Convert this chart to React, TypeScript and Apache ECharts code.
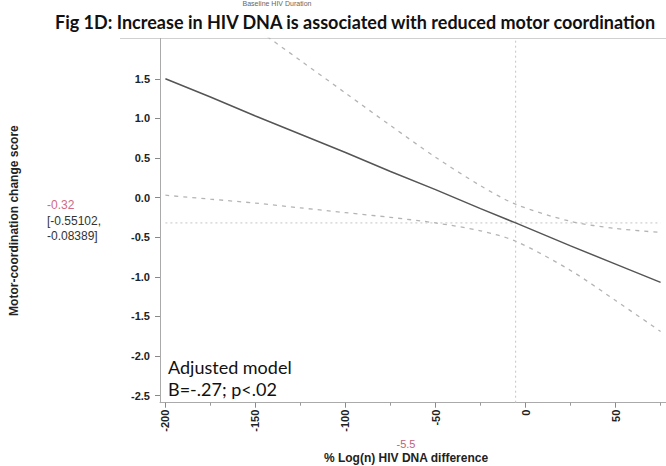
import React, { useEffect, useRef } from "react";
import * as echarts from "echarts";

// ---- data ----
const xValues = [-200, -175, -150, -125, -100, -75, -50, -25, -5.5, 25, 50, 75];
const fitValues = [1.5, 1.27, 1.03, 0.8, 0.57, 0.33, 0.1, -0.14, -0.32, -0.61, -0.84, -1.07];
const upperCI = [2.97, 2.55, 2.14, 1.73, 1.32, 0.91, 0.51, 0.15, -0.08389, -0.3, -0.39, -0.44];
const lowerCI = [0.03, -0.02, -0.07, -0.13, -0.19, -0.25, -0.32, -0.42, -0.55102, -0.92, -1.3, -1.69];

const refX = -5.5;
const refY = -0.32;
const refYLow = "-0.55102";
const refYHigh = "-0.08389";

const xTicks = [-200, -150, -100, -50, 0, 50];
const xMinorTicks = [-175, -125, -75, -25, 25, 75];
const yTicks = [-2.5, -2, -1.5, -1, -0.5, 0, 0.5, 1, 1.5];

const X_MIN = -203;
const X_MAX = 78;
const Y_MIN = -2.59;
const Y_MAX = 2.01;

const pair = (xs: number[], ys: number[]) => xs.map((x, i) => [x, ys[i]]);

export default function App() {
  const ref = useRef<HTMLDivElement>(null);
  useEffect(() => {
    if (!ref.current) return;
    const chart = echarts.init(ref.current, undefined, { renderer: "svg" });
    const axisFont = "'Liberation Sans', Arial, sans-serif";
    const option: any = {
      animation: false,
      backgroundColor: "#ffffff",
      grid: { left: 153, right: 0, top: 38.4, bottom: 63.3, containLabel: false },
      xAxis: [
        {
          type: "value",
          min: X_MIN,
          max: X_MAX,
          splitLine: { show: false },
          axisLine: { show: true, onZero: false, lineStyle: { color: "#aaaaaa", width: 1 } },
          axisTick: { show: true, length: 5, customValues: xTicks, lineStyle: { color: "#888888" } },
          axisLabel: {
            show: true,
            customValues: xTicks,
            rotate: 90,
            margin: 7,
            fontFamily: axisFont,
            fontWeight: "bold",
            fontSize: 11,
            color: "#222222",
            formatter: (v: number) => String(v),
          },
        },
        {
          type: "value",
          min: X_MIN,
          max: X_MAX,
          position: "bottom",
          splitLine: { show: false },
          axisLine: { show: false, onZero: false },
          axisTick: { show: true, length: 3, customValues: xMinorTicks, lineStyle: { color: "#999999" } },
          axisLabel: { show: false },
        },
      ],
      yAxis: {
        type: "value",
        min: Y_MIN,
        max: Y_MAX,
        splitLine: { show: false },
        axisLine: { show: true, onZero: false, lineStyle: { color: "#aaaaaa", width: 1 } },
        axisTick: { show: true, length: 5, customValues: yTicks, lineStyle: { color: "#888888" } },
        axisLabel: {
          customValues: yTicks,
          margin: 10,
          fontFamily: axisFont,
          fontWeight: "bold",
          fontSize: 11,
          color: "#222222",
          formatter: (v: number) => v.toFixed(1),
        },
        name: "Motor-coordination change score",
        nameLocation: "middle",
        nameGap: 140,
        nameTextStyle: { fontFamily: axisFont, fontWeight: "bold", fontSize: 12, color: "#222222" },
      },
      series: [
        {
          type: "line",
          data: [
            [refX, Y_MIN],
            [refX, Y_MAX],
          ],
          showSymbol: false,
          lineStyle: { color: "#c4c4c4", width: 1, type: [2, 3] },
          silent: true,
        },
        {
          type: "line",
          data: [
            [xValues[0], refY],
            [xValues[xValues.length - 1], refY],
          ],
          showSymbol: false,
          lineStyle: { color: "#c4c4c4", width: 1, type: [2, 3] },
          silent: true,
        },
        {
          type: "line",
          data: pair(xValues, upperCI),
          smooth: 0.3,
          showSymbol: false,
          lineStyle: { color: "#b4b4b4", width: 1.3, type: [4, 5] },
        },
        {
          type: "line",
          data: pair(xValues, lowerCI),
          smooth: 0.3,
          showSymbol: false,
          lineStyle: { color: "#b4b4b4", width: 1.3, type: [4, 5] },
        },
        {
          type: "line",
          data: pair(xValues, fitValues),
          showSymbol: false,
          lineStyle: { color: "#555555", width: 1.5 },
        },
      ],
      graphic: [
        {
          type: "line",
          shape: { x1: 120, y1: 38.5, x2: 666, y2: 38.5 },
          style: { stroke: "#d0d0d0", lineWidth: 1 },
        },
        {
          type: "text",
          x: 277,
          y: 3,
          style: {
            text: "Baseline HIV Duration",
            fontFamily: axisFont,
            fontSize: 7,
            fill: "#666666",
            textAlign: "center",
            textVerticalAlign: "middle",
          },
        },
        {
          type: "text",
          x: 55,
          y: 22,
          style: {
            text: "Fig 1D: Increase in HIV DNA is associated with reduced motor coordination",
            fontFamily: "Lato, 'Open Sans', sans-serif",
            fontWeight: "bold",
            fontSize: 18,
            fill: "#111111",
            textAlign: "left",
            textVerticalAlign: "middle",
          },
        },
        {
          type: "text",
          x: 47,
          y: 205,
          style: {
            text: String(refY),
            fontFamily: axisFont,
            fontSize: 12,
            fill: "#d06a82",
            textAlign: "left",
            textVerticalAlign: "middle",
          },
        },
        {
          type: "text",
          x: 47,
          y: 221,
          style: {
            text: "[" + refYLow + ",",
            fontFamily: axisFont,
            fontSize: 12,
            fill: "#333333",
            textAlign: "left",
            textVerticalAlign: "middle",
          },
        },
        {
          type: "text",
          x: 47,
          y: 236,
          style: {
            text: refYHigh + "]",
            fontFamily: axisFont,
            fontSize: 12,
            fill: "#333333",
            textAlign: "left",
            textVerticalAlign: "middle",
          },
        },
        {
          type: "text",
          x: 406,
          y: 444,
          style: {
            text: String(refX),
            fontFamily: axisFont,
            fontSize: 11,
            fill: "#c0607a",
            textAlign: "center",
            textVerticalAlign: "middle",
          },
        },
        {
          type: "text",
          x: 406,
          y: 458,
          style: {
            text: "% Log(n) HIV DNA difference",
            fontFamily: axisFont,
            fontWeight: "bold",
            fontSize: 12,
            fill: "#222222",
            textAlign: "center",
            textVerticalAlign: "middle",
          },
        },
        {
          type: "text",
          x: 168,
          y: 367,
          style: {
            text: "Adjusted model",
            fontFamily: "Lato, 'Open Sans', sans-serif",
            fontSize: 18,
            fill: "#111111",
            textAlign: "left",
            textVerticalAlign: "middle",
          },
        },
        {
          type: "text",
          x: 168,
          y: 389,
          style: {
            text: "B=-.27; p<.02",
            fontFamily: "Lato, 'Open Sans', sans-serif",
            fontSize: 18,
            fill: "#111111",
            textAlign: "left",
            textVerticalAlign: "middle",
          },
        },
      ],
    };
    chart.setOption(option);
    return () => chart.dispose();
  }, []);
  return (
    <div
      ref={ref}
      style={{ position: "fixed", left: 0, top: 0, width: 666, height: 466, background: "#fff" }}
    />
  );
}
